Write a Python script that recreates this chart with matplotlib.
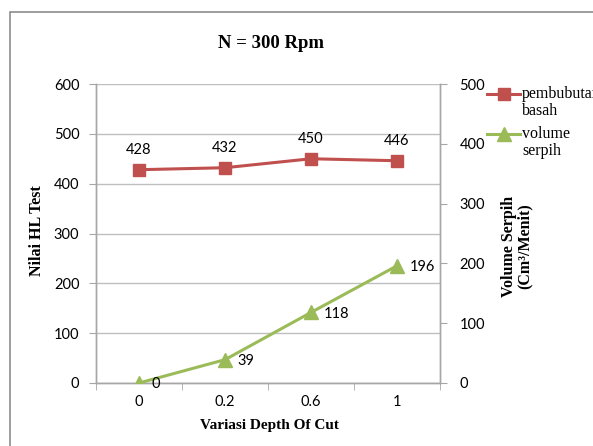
import matplotlib
matplotlib.use("Agg")
import matplotlib.pyplot as plt
from matplotlib.patches import Rectangle
from matplotlib.lines import Line2D
import numpy as np

categories = ["0", "0.2", "0.6", "1"]
hl_test = [428, 432, 450, 446]
volume_serpih = [0, 39, 118, 196]
left_ticks = [0, 100, 200, 300, 400, 500, 600]
right_ticks = [0, 100, 200, 300, 400, 500]
legend_labels = [("pembubutan", "basah"), ("volume", "serpih")]

RED = "#C0504D"
GREEN = "#9BBB59"
GRID = "#BFBFBF"
AXIS = "#A6A6A6"
SERIF = "Liberation Serif"
SANS = "Lato"
TICK_SIZE = 10.5

W, H = 593, 446
fig = plt.figure(figsize=(W / 100, H / 100), dpi=100)
fig.patch.set_facecolor("white")


def fx(px):
    return px / W


def fy(py):
    return 1 - py / H


# chart area frame
fig.patches.append(Rectangle((fx(10), -0.2), 1.2, 1.2 - 12 / H,
                             transform=fig.transFigure, fill=False,
                             edgecolor="#8C8C8C", linewidth=1.2, clip_on=False))

ax = fig.add_axes([fx(96), fy(383), 344 / W, 299 / H])
ax2 = ax.twinx()

x = np.arange(len(categories))

ax.set_xlim(-0.5, len(categories) - 0.5)
ax.set_ylim(0, 600)
ax2.set_ylim(0, 500)

ax.set_yticks(left_ticks)
ax2.set_yticks(right_ticks)
ax.grid(axis="y", color=GRID, linewidth=1.0)
ax.set_axisbelow(True)

ax.set_xticks(x)
ax.set_xticklabels(categories)
ax.set_xticks(np.arange(-0.5, len(categories), 1.0), minor=True)
ax.tick_params(axis="x", which="major", length=0, pad=9, labelsize=TICK_SIZE)
ax.tick_params(axis="x", which="minor", length=5, color=AXIS, direction="out")
ax.tick_params(axis="y", length=5, color=AXIS, labelsize=TICK_SIZE, pad=7)
ax2.tick_params(axis="y", length=5, color=AXIS, labelsize=TICK_SIZE, pad=9)
for a in (ax, ax2):
    for lab in a.get_xticklabels() + a.get_yticklabels():
        lab.set_fontfamily(SANS)
    a.spines["top"].set_visible(False)
    for side in ("left", "right", "bottom"):
        a.spines[side].set_color(AXIS)
        a.spines[side].set_linewidth(1.0)

red_style = dict(color=RED, linewidth=2.2, marker="s", markersize=8.5)
green_style = dict(color=GREEN, linewidth=2.2, marker="^", markersize=10)

ax.plot(x, hl_test, zorder=3, **red_style)
ax2.plot(x, volume_serpih, zorder=3, **green_style)

for xi, v in zip(x, hl_test):
    ax.annotate(str(v), (xi, v), xytext=(0, 14.5), textcoords="offset points",
                ha="center", va="center", fontsize=TICK_SIZE, fontfamily=SANS)
for xi, v in zip(x, volume_serpih):
    ax2.annotate(str(v), (xi, v), xytext=(9, -1), textcoords="offset points",
                 ha="left", va="center", fontsize=TICK_SIZE, fontfamily=SANS)

fig.text(fx(271), fy(44), "N = 300 Rpm", ha="center", va="center",
         fontsize=13.5, fontweight="bold", fontfamily=SERIF)
fig.text(fx(37), fy(231), "Nilai HL Test", ha="center", va="center",
         rotation=90, fontsize=11.5, fontweight="bold", fontfamily=SERIF)
fig.text(fx(517), fy(246), "Volume Serpih\n(Cm\u00b3/Menit)", ha="center",
         va="center", rotation=90, fontsize=11.5, fontweight="bold",
         fontfamily=SERIF, linespacing=1.0)
fig.text(fx(270), fy(425), "Variasi Depth Of Cut", ha="center",
         va="center", fontsize=11, fontweight="bold", fontfamily=SERIF)

# legend: key line aligned with the first line of each two-line label
for (first, second), style, y0 in zip(legend_labels, [red_style, green_style],
                                      [94, 134]):
    fig.add_artist(Line2D([fx(487), fx(503.5), fx(520)], [fy(y0)] * 3,
                          transform=fig.transFigure, markevery=[1],
                          **style))
    fig.text(fx(522), fy(y0), first, ha="left", va="center",
             fontsize=11.5, fontfamily=SERIF)
    fig.text(fx(522), fy(y0 + 17), second, ha="left", va="center",
             fontsize=11.5, fontfamily=SERIF)

fig.savefig("out.png", dpi=100, facecolor="white")
